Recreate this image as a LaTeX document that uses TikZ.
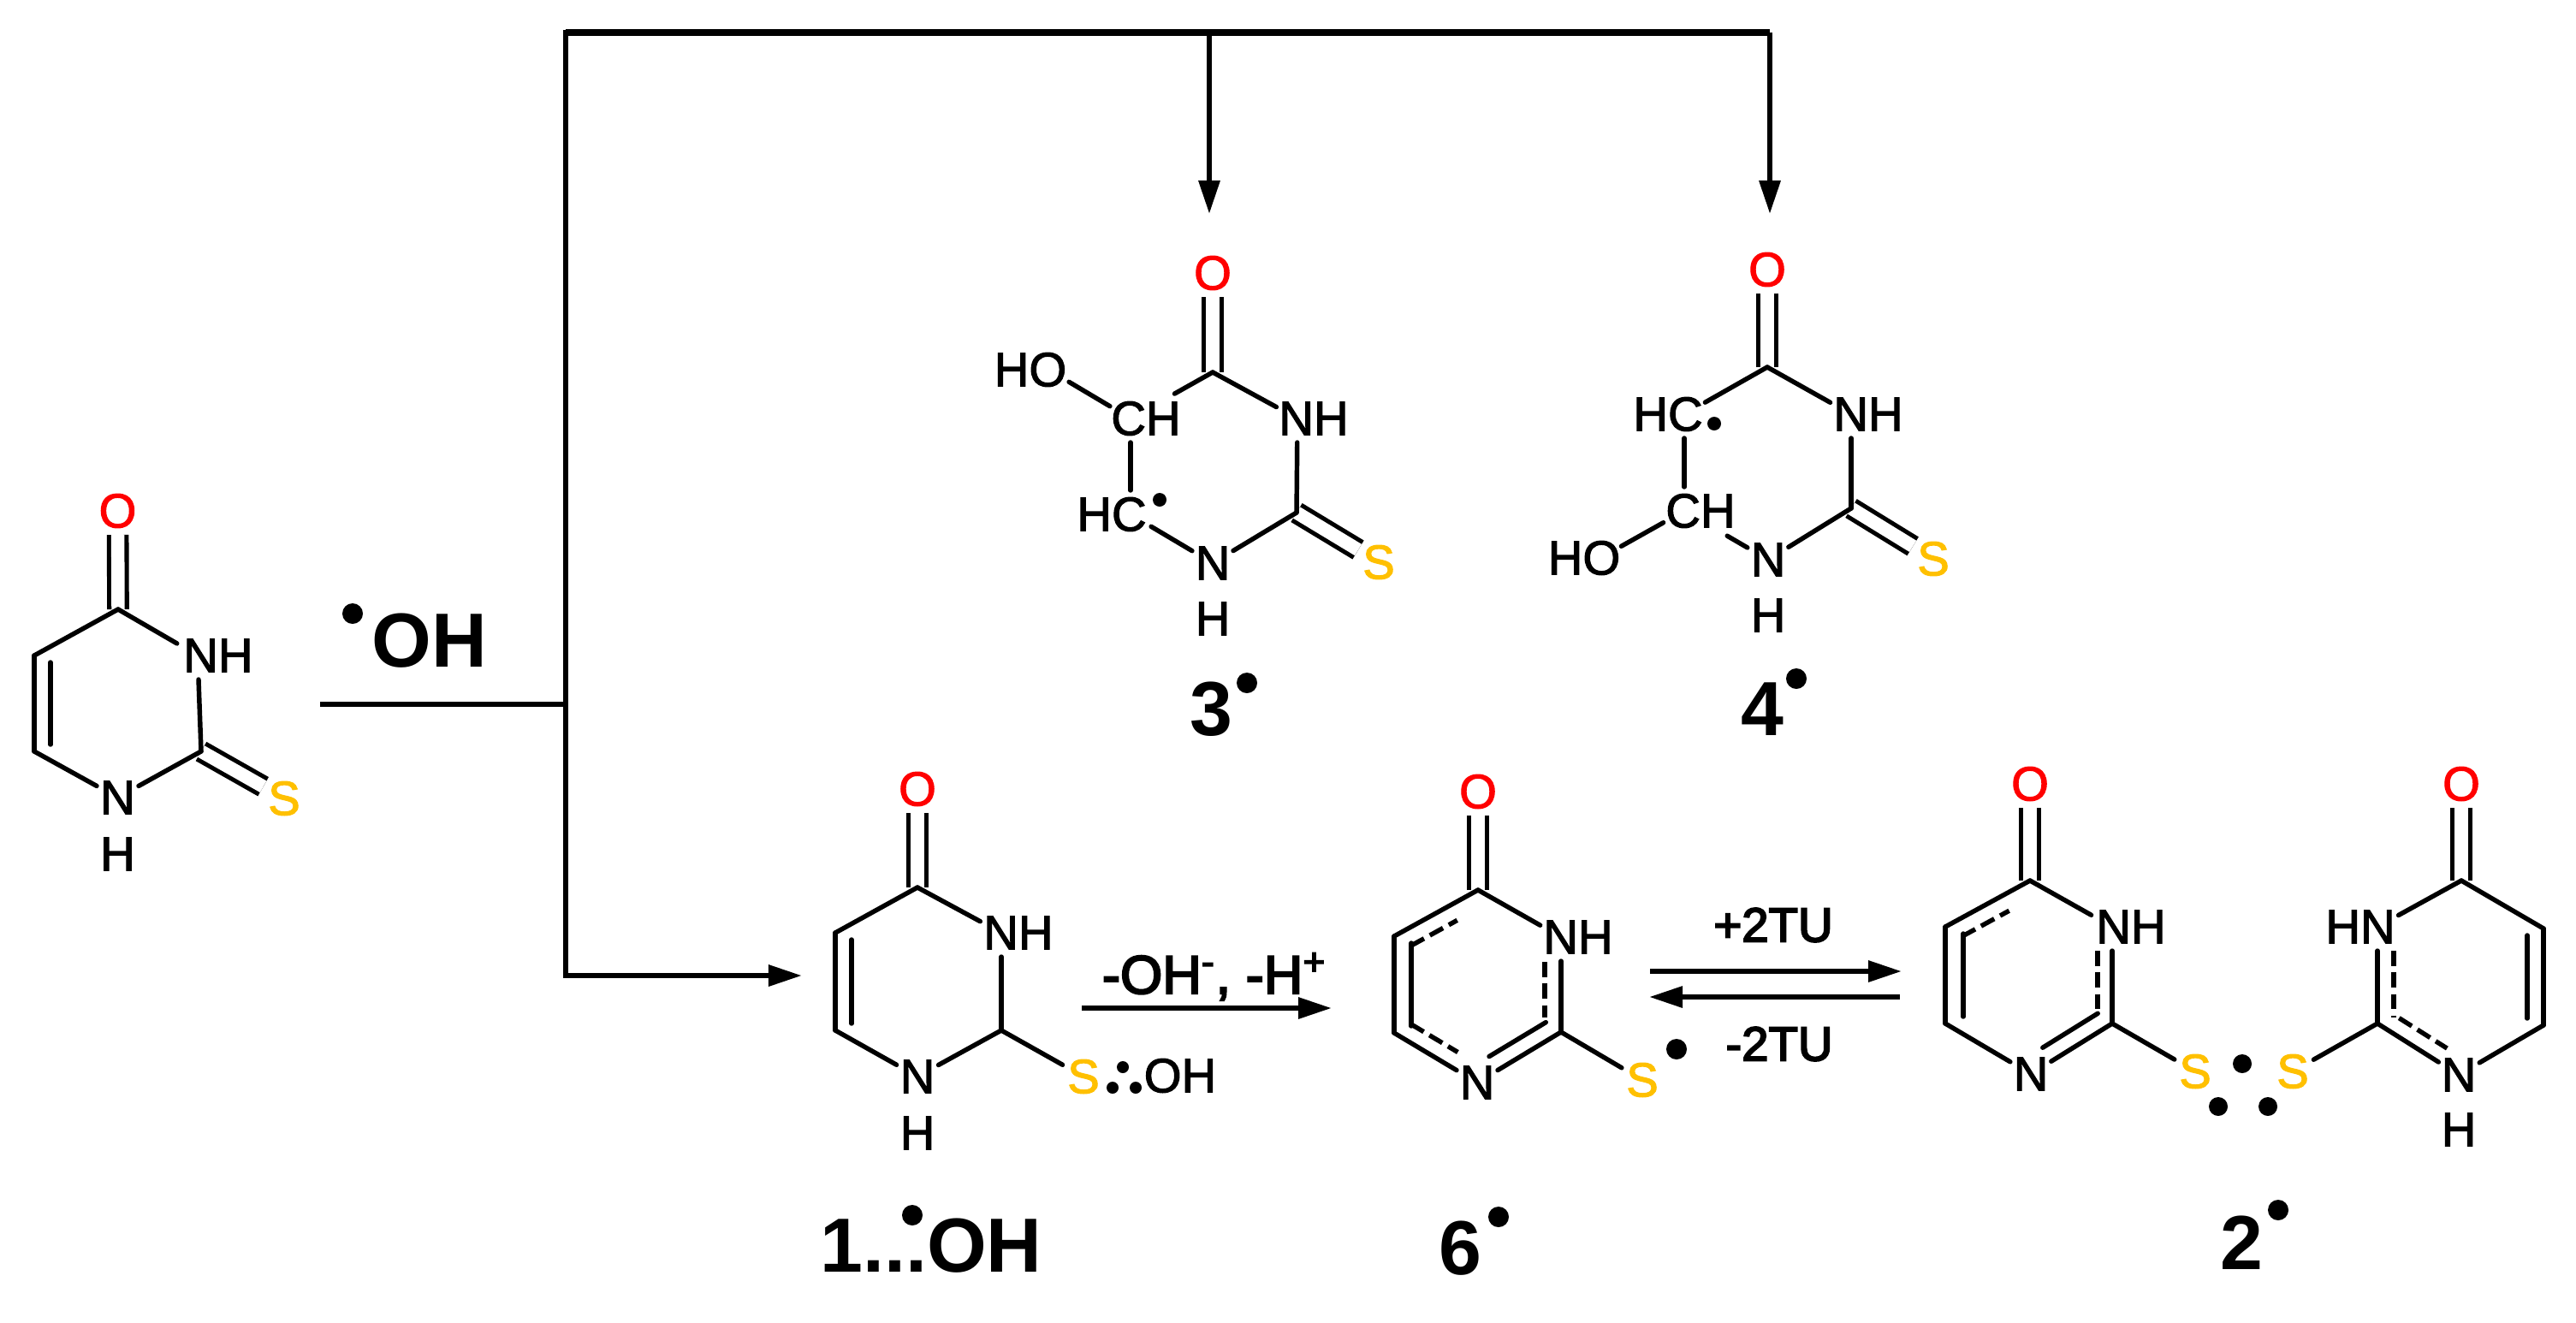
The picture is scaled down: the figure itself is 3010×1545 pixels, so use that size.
\documentclass[tikz,border=0pt]{standalone}
\usepackage{fontspec}
\setmainfont{Liberation Sans}
\newfontfamily\atomfont[FakeBold=2]{Liberation Sans}
\newfontfamily\rxnfont[FakeBold=3.5]{Liberation Sans}
\usetikzlibrary{arrows.meta}

\begin{document}
\begin{tikzpicture}[x=0.01cm,y=-0.01cm]
  % styles
  \tikzset{atom/.style = {inner sep=0pt, font=\fontsize{16}{18}\selectfont\atomfont}}
  \tikzset{oxy/.style = {atom, text=red}}
  \tikzset{sul/.style = {atom, text={rgb,255:red,255;green,192;blue,0}}}
  \tikzset{mollabel/.style = {inner sep=0pt, font=\fontsize{25.5}{28}\selectfont\bfseries}}
  \tikzset{rxnlabel/.style = {inner sep=0pt, font=\fontsize{16}{18}\selectfont\rxnfont}}
  \tikzset{raddot/.style = {circle, fill=black, inner sep=0pt, minimum size=0.24cm}}
  \tikzset{smalldot/.style = {circle, fill=black, inner sep=0pt, minimum size=0.16cm}}
  \tikzset{bond/.style = {line width=1.55pt, line cap=round}}
  \tikzset{dbond/.style = {line width=1.45pt, double, double distance=4.4pt}}
  \tikzset{toatom/.style = {shorten >=0.28cm}}
  \tikzset{fromatom/.style = {shorten <=0.28cm}}
  \tikzset{inbond/.style = {bond, shorten <=0.08cm, shorten >=0.08cm}}
  \tikzset{dashbond/.style = {bond, line cap=butt, dash pattern=on 5pt off 2.2pt}}
  \tikzset{rxnline/.style = {line width=1.75pt}}
  \tikzset{rxnarrow/.style = {rxnline, -{Triangle[length=0.39cm,width=0.24cm]}}}

  \useasboundingbox (0,0) rectangle (3010,1545);

  % starting molecule
  \coordinate (tc4) at (138,712);
  \coordinate (tc5) at (40,766);
  \coordinate (tc6) at (40,878);
  \coordinate (tc2) at (235,878);
  \coordinate (tn1) at (137.5,932);
  \coordinate (tn3) at (231,766);
  \node[oxy] (to) at (137.5,597) {O};
  \node[atom] (tnh) at (255,766) {NH};
  \node[atom] (tnn) at (tn1) {N};
  \node[atom] (th) at (137.5,998) {H};
  \node[sul] (ts) at (332,933) {S};
  \draw[dbond, toatom] (tc4) -- (to.center);
  \draw[dbond, toatom] (tc2) -- (ts.center);
  \draw[bond] (tc4) -- (tc5);
  \draw[bond] (tc5) -- (tc6);
  \draw[inbond] ([xshift=0.19cm]tc5) -- ([xshift=0.19cm]tc6);
  \draw[bond, toatom] (tc6) -- (tn1);
  \draw[bond, toatom] (tc2) -- (tn1);
  \draw[bond, toatom] (tc4) -- (tn3);
  \draw[bond, fromatom] (tn3) -- (tc2);

  % reagent and main lines
  \node[raddot] (ohdot) at (412,717) {};
  \node[mollabel] (oh) at (502,749) {OH};
  \coordinate (start) at (374,823);
  \coordinate (branch) at (661,823);
  \coordinate (topl) at (661,38);
  \coordinate (topm) at (1413,38);
  \coordinate (topr) at (2068,38);
  \coordinate (botl) at (661,1140);
  \coordinate (to3) at (1413,250);
  \coordinate (to4) at (2068,250);
  \coordinate (to1) at (937,1140);
  \draw[rxnline] (start) -- (branch);
  \draw[rxnline, line cap=rect] (botl) -- (topl);
  \draw[rxnline, line width=2.1pt] (topl) -- (topr);
  \draw[rxnarrow] (topr) -- (to4);
  \draw[rxnarrow] (topm) -- (to3);
  \draw[rxnarrow] (botl) -- (to1);

  % molecule 3
  \coordinate (rc4) at (1417,435);
  \coordinate (rc2) at (1515,599);
  \coordinate (rn3) at (1516,489);
  \coordinate (rn1) at (1417,658);
  \coordinate (rc5) at (1321,489);
  \coordinate (rc6) at (1321,601);
  \coordinate (ro2) at (1225,432);
  \node[oxy] (ro) at (1417,319) {O};
  \node[atom] (rnh) at (1535,489) {NH};
  \node[atom] (rnn) at (rn1) {N};
  \node[atom] (rh) at (1417,723) {H};
  \node[sul] (rs) at (1611,657) {S};
  \node[atom] (rch) at (1339,489) {CH};
  \node[atom] (rhc) at (1299,601) {HC};
  \node[atom] (rho) at (1204,432) {HO};
  \node[smalldot] (rdot) at (1355,584) {};
  \draw[dbond, toatom] (rc4) -- (ro.center);
  \draw[dbond, toatom] (rc2) -- (rs.center);
  \draw[bond, toatom] (rc4) -- (rn3);
  \draw[bond, shorten >=0.59cm] (rc4) -- (rc5);
  \draw[bond, fromatom, toatom] (ro2) -- (rc5);
  \draw[bond, fromatom, toatom] (rc5) -- (rc6);
  \draw[bond, fromatom, toatom] (rc6) -- (rn1);
  \draw[bond, toatom] (rc2) -- (rn1);
  \draw[bond, fromatom] (rn3) -- (rc2);
  \node[mollabel] (l3) at (1415,829) {3};
  \node[raddot] (l3dot) at (1457,798) {};

  % molecule 4
  \coordinate (qc4) at (2065,429);
  \coordinate (qc2) at (2163,594);
  \coordinate (qn3) at (2163,484);
  \coordinate (qn1) at (2066,654);
  \coordinate (qc5) at (1968,484);
  \coordinate (qc6) at (1968,597);
  \coordinate (qo2) at (1870,652);
  \node[oxy] (qo) at (2065,315) {O};
  \node[atom] (qnh) at (2183,484) {NH};
  \node[atom] (qnn) at (qn1) {N};
  \node[atom] (qh) at (2066,719) {H};
  \node[sul] (qs) at (2259,653) {S};
  \node[atom] (qhc) at (1949,484) {HC};
  \node[atom] (qch) at (1987,597) {CH};
  \node[atom] (qho) at (1851,652) {HO};
  \node[smalldot] (qdot) at (2003,495) {};
  \draw[dbond, toatom] (qc4) -- (qo.center);
  \draw[dbond, toatom] (qc2) -- (qs.center);
  \draw[bond, toatom] (qc4) -- (qn3);
  \draw[bond, toatom] (qc4) -- (qc5);
  \draw[bond, fromatom, toatom] (qc5) -- (qc6);
  \draw[bond, fromatom, toatom] (qc6) -- (qo2);
  \draw[bond, shorten <=0.58cm, toatom] (qc6) -- (qn1);
  \draw[bond, toatom] (qc2) -- (qn1);
  \draw[bond, fromatom] (qn3) -- (qc2);
  \node[mollabel] (l4) at (2059,829) {4};
  \node[raddot] (l4dot) at (2099,793) {};

  % molecule 1...OH
  \coordinate (ac4) at (1072,1037);
  \coordinate (ac5) at (976,1090);
  \coordinate (ac6) at (976,1204);
  \coordinate (ac2) at (1170,1204);
  \coordinate (an3) at (1170,1090);
  \coordinate (an1) at (1072,1258);
  \node[oxy] (ao) at (1072,922) {O};
  \node[atom] (anh) at (1190,1090) {NH};
  \node[atom] (ann) at (an1) {N};
  \node[atom] (ah) at (1072,1324) {H};
  \node[sul] (as) at (1266,1258) {S};
  \node[atom] (aoh) at (1379,1257) {OH};
  \node[smalldot, minimum size=0.14cm] (ad1) at (1312,1247) {};
  \node[smalldot, minimum size=0.14cm] (ad2) at (1300,1271) {};
  \node[smalldot, minimum size=0.14cm] (ad3) at (1327,1271) {};
  \draw[dbond, toatom] (ac4) -- (ao.center);
  \draw[bond] (ac4) -- (ac5);
  \draw[bond] (ac5) -- (ac6);
  \draw[inbond] ([xshift=0.19cm]ac5) -- ([xshift=0.19cm]ac6);
  \draw[bond, toatom] (ac6) -- (an1);
  \draw[bond, toatom] (ac2) -- (an1);
  \draw[bond, toatom] (ac4) -- (an3);
  \draw[bond, fromatom] (an3) -- (ac2);
  \draw[bond, toatom] (ac2) -- (as.center);
  \node[mollabel] (l1) at (1088,1456) {1...OH};
  \node[raddot] (l1dot) at (1066,1420) {};

  % first reaction arrow
  \coordinate (ar1) at (1264,1178);
  \coordinate (ar2) at (1556,1178);
  \draw[rxnarrow] (ar1) -- (ar2);
  \node[rxnlabel, font=\fontsize{18}{20}\selectfont\rxnfont, anchor=base] (lloss) at (1419,1161) {-OH\textsuperscript{-}, -H\textsuperscript{+}};

  % molecule 6
  \coordinate (sc4) at (1727,1040);
  \coordinate (sc5) at (1629,1094);
  \coordinate (sc6) at (1629,1207);
  \coordinate (sc2) at (1824,1206);
  \coordinate (sn3) at (1824,1095);
  \coordinate (sn1) at (1726,1265);
  \node[oxy] (so) at (1727,925) {O};
  \node[atom] (snh) at (1844,1095) {NH};
  \node[atom] (snn) at (sn1) {N};
  \node[sul] (ss) at (1919,1262) {S};
  \node[raddot] (sdot) at (1959,1226) {};
  \draw[dbond, toatom] (sc4) -- (so.center);
  \draw[bond] (sc4) -- (sc5);
  \draw[dashbond, shorten <=0.12cm, shorten >=0.38cm] ([shift={(9,17)}]sc5) -- ([shift={(9,17)}]sc4);
  \draw[bond] (sc5) -- (sc6);
  \draw[inbond] ([xshift=0.2cm]sc5) -- ([xshift=0.2cm]sc6);
  \draw[bond, toatom] (sc6) -- (sn1);
  \draw[dashbond, shorten <=0.11cm, shorten >=0.38cm] ([shift={(10,-16)}]sc6) -- ([shift={(10,-16)}]sn1);
  \draw[bond, toatom] (sc2) -- (sn1);
  \draw[bond, shorten <=0.09cm, toatom] ([shift={(-10,-16)}]sc2) -- ([shift={(-10,-16)}]sn1);
  \draw[bond, toatom] (sc4) -- (sn3);
  \draw[bond, fromatom] (sn3) -- (sc2);
  \draw[dashbond, shorten <=0.29cm, shorten >=0.17cm] ([xshift=-0.19cm]sn3) -- ([xshift=-0.19cm]sc2);
  \draw[bond, toatom] (sc2) -- (ss.center);
  \node[mollabel] (l6) at (1706,1459) {6};
  \node[raddot] (l6dot) at (1751,1422) {};

  % equilibrium arrows
  \coordinate (eq1) at (1928,1135);
  \coordinate (eq2) at (2222,1135);
  \coordinate (eq3) at (2220,1165);
  \coordinate (eq4) at (1927,1165);
  \draw[rxnarrow] (eq1) -- (eq2);
  \draw[rxnarrow] (eq3) -- (eq4);
  \node[rxnlabel] (lplus) at (2072,1081) {+2TU};
  \node[rxnlabel] (lminus) at (2079,1220) {-2TU};

  % molecule 2, left ring
  \coordinate (dc4) at (2372,1029);
  \coordinate (dc5) at (2273,1083);
  \coordinate (dc6) at (2273,1196);
  \coordinate (dc2) at (2468,1196);
  \coordinate (dn3) at (2468,1083);
  \coordinate (dn1) at (2373,1255);
  \node[oxy] (do) at (2372,916) {O};
  \node[atom] (dnh) at (2490,1083) {NH};
  \node[atom] (dnn) at (dn1) {N};
  \node[sul] (ds) at (2565,1252) {S};
  \draw[dbond, toatom] (dc4) -- (do.center);
  \draw[bond] (dc4) -- (dc5);
  \draw[dashbond, shorten <=0.12cm, shorten >=0.38cm] ([shift={(9,17)}]dc5) -- ([shift={(9,17)}]dc4);
  \draw[bond] (dc5) -- (dc6);
  \draw[inbond] ([xshift=0.21cm]dc5) -- ([xshift=0.21cm]dc6);
  \draw[bond, toatom] (dc6) -- (dn1);
  \draw[bond, toatom] (dc2) -- (dn1);
  \draw[bond, shorten <=0.08cm, toatom] ([shift={(-10,-16)}]dc2) -- ([shift={(-10,-16)}]dn1);
  \draw[bond, toatom] (dc4) -- (dn3);
  \draw[bond, fromatom] (dn3) -- (dc2);
  \draw[dashbond, shorten <=0.28cm, shorten >=0.13cm] ([xshift=-0.17cm]dn3) -- ([xshift=-0.17cm]dc2);
  \draw[bond, toatom] (dc2) -- (ds.center);

  % molecule 2, right ring
  \coordinate (ec4) at (2876,1029);
  \coordinate (ec5) at (2972,1085);
  \coordinate (ec6) at (2972,1198);
  \coordinate (ec2) at (2778,1196);
  \coordinate (en3) at (2778,1083);
  \coordinate (en1) at (2873,1256);
  \node[oxy] (eo) at (2876,916) {O};
  \node[atom] (ehn) at (2758,1083) {HN};
  \node[atom] (enn) at (en1) {N};
  \node[atom] (eh) at (2873,1320) {H};
  \node[sul] (es) at (2679,1252) {S};
  \draw[dbond, toatom] (ec4) -- (eo.center);
  \draw[bond] (ec4) -- (ec5);
  \draw[bond] (ec5) -- (ec6);
  \draw[inbond] ([xshift=-0.19cm]ec5) -- ([xshift=-0.19cm]ec6);
  \draw[bond, toatom] (ec6) -- (en1);
  \draw[bond, toatom] (ec2) -- (en1);
  \draw[dashbond, shorten <=0.18cm, shorten >=0.28cm] ([shift={(10,-16)}]ec2) -- ([shift={(10,-16)}]en1);
  \draw[bond, toatom] (ec4) -- (en3);
  \draw[bond, fromatom] (en3) -- (ec2);
  \draw[dashbond, shorten <=0.28cm, shorten >=0.07cm] ([xshift=0.19cm]en3) -- ([xshift=0.19cm]ec2);
  \draw[bond, toatom] (ec2) -- (es.center);

  % three electron bond dots
  \node[raddot, minimum size=0.22cm] (dd1) at (2620,1243) {};
  \node[raddot, minimum size=0.22cm] (dd2) at (2592,1293) {};
  \node[raddot, minimum size=0.22cm] (dd3) at (2650,1293) {};
  \node[mollabel] (l2) at (2619,1452) {2};
  \node[raddot] (l2dot) at (2662,1414) {};
\end{tikzpicture}
\end{document}
